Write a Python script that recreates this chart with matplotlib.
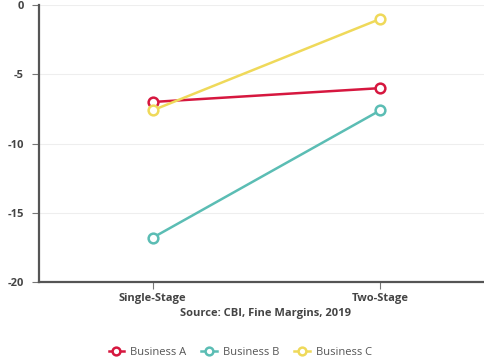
"""Business A/B/C single-stage vs two-stage line chart."""
import matplotlib
matplotlib.use("Agg")
import matplotlib.pyplot as plt

categories = ["Single-Stage", "Two-Stage"]
business_a = [-7.0, -6.0]
business_b = [-16.8, -7.6]
business_c = [-7.6, -1.0]
series_names = ["Business A", "Business B", "Business C"]
colors = ["#d6173f", "#5bbdb4", "#efd95a"]
yticks = [0, -5, -10, -15, -20]

plt.rcParams["font.family"] = ["Open Sans", "DejaVu Sans"]

fig = plt.figure(figsize=(4.85, 3.6), dpi=100)
ax = fig.add_axes([0.0804, 0.2167, 0.9196, 0.7693])

x = list(range(len(categories)))
for vals, name, col in zip([business_a, business_b, business_c], series_names, colors):
    ax.plot(x, vals, color=col, lw=1.8, marker="o", ms=7, mfc="white",
            mec=col, mew=1.8, label=name, zorder=3)

ax.set_ylim(-20, 0)
ax.set_xlim(-0.5, 1.46)
ax.set_yticks(yticks)
ax.set_yticklabels([str(t) for t in yticks], fontsize=8, fontweight="bold", color="#444444")
ax.set_xticks(x)
ax.set_xticklabels(categories, fontsize=8, fontweight="bold", color="#444444")
ax.tick_params(axis="both", length=5, width=0.8, color="#777777")
ax.tick_params(axis="y", pad=6)
ax.tick_params(axis="x", pad=3)

for s in ["top", "right"]:
    ax.spines[s].set_visible(False)
for s in ["left", "bottom"]:
    ax.spines[s].set_color("#555555")
    ax.spines[s].set_linewidth(1.6)
ax.grid(axis="y", color="#eeeeee", lw=0.8)
ax.set_axisbelow(True)

fig.text(0.548, 0.13, "Source: CBI, Fine Margins, 2019", ha="center", va="center",
         fontsize=8, fontweight="bold", color="#444444")

handles, labels = ax.get_legend_handles_labels()
fig.legend(handles, labels, loc="center", bbox_to_anchor=(0.495, 0.022), ncol=3,
           frameon=False, fontsize=8, labelcolor="#555555", handlelength=1.4,
           columnspacing=1.4, handletextpad=0.5, markerscale=0.8)

fig.savefig("out.png", dpi=100)
